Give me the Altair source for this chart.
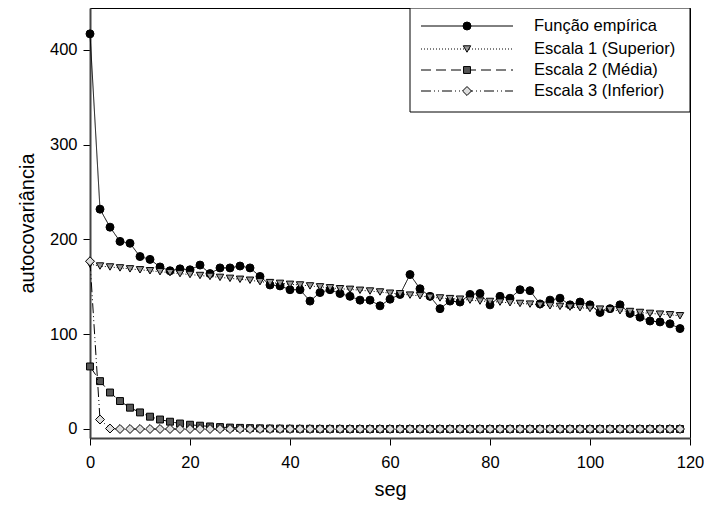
import altair as alt
import pandas as pd

seg = list(range(0, 120, 2))

empirica = [417, 232, 213, 198, 196, 182, 179, 171, 167, 169,
            168, 173, 164, 170, 170, 172, 170, 161, 152, 151,
            147, 147, 135, 144, 147, 143, 140, 136, 136, 130,
            137, 142, 163, 148, 140, 127, 135, 134, 142, 143,
            131, 140, 138, 147, 146, 132, 136, 138, 131, 134,
            131, 123, 127, 131, 122, 118, 114, 113, 111, 106]

escala1 = [174, 172, 171, 170, 169, 168, 167, 166, 165, 164,
           163, 162, 161, 160, 159, 158, 157, 155.5, 154.5, 153.7,
           152.7, 152, 151, 150, 149, 148, 147.4, 146.4, 145.6, 144.6,
           143.3, 142.7, 141.3, 140.6, 139, 138.3, 137.6, 137, 136, 135,
           134.6, 133.9, 133.2, 132.5, 131.8, 130.7, 130, 129.4, 128.6, 128,
           127.2, 126.5, 125.8, 124.8, 124, 123, 122, 121.2, 120.5, 119.5]

escala2 = [66, 50.5, 38.5, 29.5, 22.5, 17.5, 13, 10, 7.7, 5.8,
           4.5, 3.5, 2.7, 2, 1.5, 1.2, 0.9, 0.7, 0.5, 0.4,
           0.3, 0.2, 0.2, 0.1, 0.1, 0.1, 0, 0, 0, 0,
           0, 0, 0, 0, 0, 0, 0, 0, 0, 0,
           0, 0, 0, 0, 0, 0, 0, 0, 0, 0,
           0, 0, 0, 0, 0, 0, 0, 0, 0, 0]

escala3 = [177, 10, 0.5] + [0] * 57

labels = ["Função empírica", "Escala 1 (Superior)", "Escala 2 (Média)", "Escala 3 (Inferior)"]
series_values = [empirica, escala1, escala2, escala3]

styles = [
    dict(dash=[1, 0], shape="circle", fill="#000000", size=64),
    dict(dash=[1, 2], shape="triangle-down", fill="#999999", size=55),
    dict(dash=[10, 5], shape="square", fill="#555555", size=48),
    dict(dash=[10, 3, 1, 3, 1, 3], shape="diamond", fill="#dddddd", size=80),
]

xs = alt.X("seg:Q", scale=alt.Scale(domain=[0, 120], nice=False, zero=False),
           axis=alt.Axis(title="seg", values=[0, 20, 40, 60, 80, 100, 120]))
ys = alt.Y("v:Q", scale=alt.Scale(domain=[-9.5, 444.3], nice=False, zero=False),
           axis=alt.Axis(title="autocovariância", values=[0, 100, 200, 300, 400]))

layers = []
for lab, vals, st in zip(labels, series_values, styles):
    df = pd.DataFrame({"seg": seg, "v": vals})
    base = alt.Chart(df)
    layers.append(base.mark_line(color="black", strokeWidth=1, strokeDash=st["dash"]).encode(x=xs, y=ys))
    layers.append(base.mark_point(shape=st["shape"], filled=True, fill=st["fill"], stroke="black",
                                  strokeWidth=1, size=st["size"], opacity=1).encode(x=xs, y=ys))

# manual legend
one = pd.DataFrame({"a": [0]})
layers.append(alt.Chart(one).mark_rect(fill="white", stroke="black", strokeWidth=1).encode(
    x=alt.value(320), x2=alt.value(600), y=alt.value(0), y2=alt.value(104)))
rows_y = [18, 41, 62, 83]
for lab, st, ry in zip(labels, styles, rows_y):
    layers.append(alt.Chart(one).mark_rule(color="black", strokeWidth=1, strokeDash=st["dash"]).encode(
        x=alt.value(331), x2=alt.value(423), y=alt.value(ry)))
    layers.append(alt.Chart(one).mark_point(shape=st["shape"], filled=True, fill=st["fill"], stroke="black",
                                            strokeWidth=1, size=st["size"], opacity=1).encode(
        x=alt.value(377), y=alt.value(ry)))
    layers.append(alt.Chart(one).mark_text(align="left", baseline="middle", fontSize=16.5,
                                           font="Liberation Sans", color="black").encode(
        x=alt.value(444), y=alt.value(ry), text=alt.value(lab)))

chart = alt.layer(*layers).properties(
    width=600, height=430,
    autosize=alt.AutoSizeParams(type="none"),
    padding={"left": 82, "top": 0, "right": 14, "bottom": 70},
).configure_view(stroke="black", strokeWidth=1).configure_axis(
    grid=False, domainColor="#444444", domainWidth=2, tickColor="black", tickSize=7,
    labelFont="Liberation Sans", titleFont="Liberation Sans", labelFontSize=16.5, titleFontSize=20,
    labelColor="black", titleColor="black", titleFontWeight="normal", labelPadding=6,
    labelFlush=False,
).configure_axisY(titlePadding=12).configure_axisX(titlePadding=9, labelPadding=9)

chart.save("out.html", embed_options={"renderer": "svg", "actions": False})
